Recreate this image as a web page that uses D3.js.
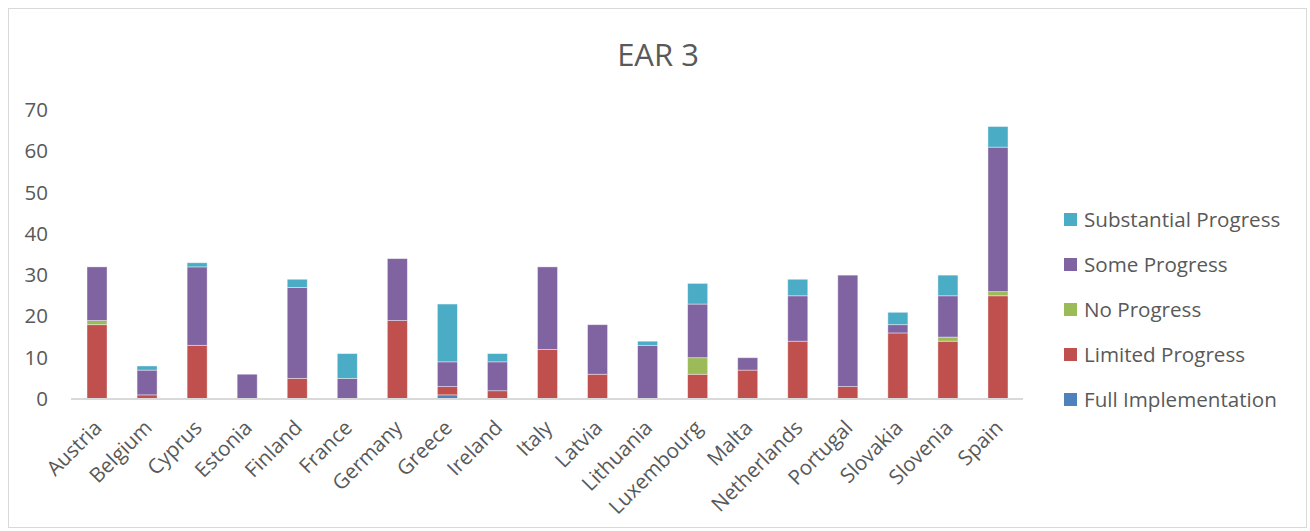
<!DOCTYPE html>
<html>
<head>
<meta charset="utf-8">
<script src="https://cdn.jsdelivr.net/npm/d3@7"></script>
<style>
  html, body { margin: 0; padding: 0; background: #fff; }
  svg text { font-family: "Open Sans", "DejaVu Sans", sans-serif; fill: #595959; }
</style>
</head>
<body>
<svg id="chart" width="1310" height="531"></svg>
<script>
// Countries along the x axis
const countries = ["Austria", "Belgium", "Cyprus", "Estonia", "Finland", "France", "Germany",
  "Greece", "Ireland", "Italy", "Latvia", "Lithuania", "Luxembourg", "Malta", "Netherlands",
  "Portugal", "Slovakia", "Slovenia", "Spain"];

// Number of recommendations per assessment category, stacked bottom to top
const fullImplementation  = [0, 0, 0, 0, 0, 0, 0, 1, 0, 0, 0, 0, 0, 0, 0, 0, 0, 0, 0];
const limitedProgress     = [18, 1, 13, 0, 5, 0, 19, 2, 2, 12, 6, 0, 6, 7, 14, 3, 16, 14, 25];
const noProgress          = [1, 0, 0, 0, 0, 0, 0, 0, 0, 0, 0, 0, 4, 0, 0, 0, 0, 1, 1];
const someProgress        = [13, 6, 19, 6, 22, 5, 15, 6, 7, 20, 12, 13, 13, 3, 11, 27, 2, 10, 35];
const substantialProgress = [0, 1, 1, 0, 2, 6, 0, 14, 2, 0, 0, 1, 5, 0, 4, 0, 3, 5, 5];

const yTicks = [0, 10, 20, 30, 40, 50, 60, 70];

const seriesNames = ["Full Implementation", "Limited Progress", "No Progress", "Some Progress", "Substantial Progress"];
const seriesValues = [fullImplementation, limitedProgress, noProgress, someProgress, substantialProgress];
const seriesColors = ["#4F81BD", "#C0504D", "#9BBB59", "#8064A2", "#4BACC6"];

const rows = countries.map((c, i) => {
  const r = { country: c };
  seriesNames.forEach((s, k) => { r[s] = seriesValues[k][i]; });
  return r;
});

const svg = d3.select("#chart");

// Outer chart border
svg.append("rect")
  .attr("x", 8.5).attr("y", 8.5)
  .attr("width", 1298).attr("height", 519)
  .attr("fill", "#fff").attr("stroke", "#d9d9d9").attr("stroke-width", 1);

// Title
svg.append("text")
  .attr("x", 658).attr("y", 66)
  .attr("text-anchor", "middle")
  .style("font-size", "31px")
  .text("EAR 3");

const plot = { left: 72, right: 1023, top: 110, bottom: 399 };

const x = d3.scaleBand().domain(countries).range([plot.left, plot.right]).paddingInner(0.6).paddingOuter(0.3);
const y = d3.scaleLinear().domain([0, 70]).range([plot.bottom, plot.top]);

const stack = d3.stack().keys(seriesNames);
const layers = stack(rows);

// Stacked bars
svg.append("g").selectAll("g")
  .data(layers)
  .join("g")
  .attr("fill", (d, i) => seriesColors[i])
  .selectAll("rect")
  .data(d => d)
  .join("rect")
  .attr("x", d => x(d.data.country))
  .attr("y", d => y(d[1]))
  .attr("width", x.bandwidth())
  .attr("height", d => Math.max(0, y(d[0]) - y(d[1])))
  .attr("stroke", "#fff")
  .attr("stroke-opacity", 0.5)
  .attr("stroke-width", d => (d[1] - d[0]) > 0 ? 0.8 : 0);

// Y axis labels (no line)
const yAxis = svg.append("g")
  .attr("transform", "translate(48,0)")
  .call(d3.axisLeft(y).tickValues(yTicks).tickSize(0).tickPadding(0));
yAxis.select(".domain").remove();
yAxis.selectAll("text")
  .style("font-size", "20.5px")
  .style("font-family", "'Open Sans', sans-serif")
  .attr("fill", "#595959");

// X axis baseline and category labels
const xAxis = svg.append("g")
  .attr("transform", `translate(0,${plot.bottom})`)
  .call(d3.axisBottom(x).tickSize(0).tickPadding(0));
xAxis.select(".domain")
  .attr("stroke", "#d9d9d9").attr("stroke-width", 2)
  .attr("d", `M${plot.left},1V0H${plot.right}`);
xAxis.selectAll("text")
  .style("font-size", "20.6px")
  .style("font-family", "'Open Sans', sans-serif")
  .attr("fill", "#595959")
  .attr("text-anchor", "end")
  .attr("dy", "0.35em")
  .attr("transform", "translate(1,25) rotate(-45)");

// Legend, top-down from Substantial Progress to Full Implementation
const legendOrder = [4, 3, 2, 1, 0];
const legend = svg.append("g");
legendOrder.forEach((k, row) => {
  const yy = 220 + row * 45;
  legend.append("rect")
    .attr("x", 1064).attr("y", yy - 7)
    .attr("width", 13).attr("height", 13)
    .attr("fill", seriesColors[k]);
  legend.append("text")
    .attr("x", 1084).attr("y", yy)
    .attr("dy", "0.35em")
    .style("font-size", "20.6px")
    .text(seriesNames[k]);
});
</script>
</body>
</html>
